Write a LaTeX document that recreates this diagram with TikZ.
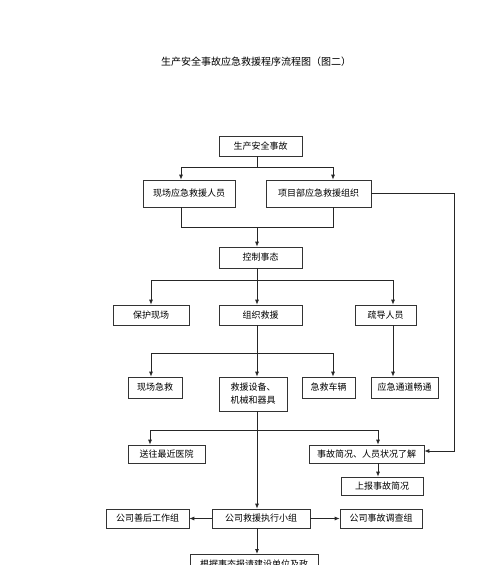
\documentclass[tikz,border=0pt]{standalone}
\usepackage{fontspec}
\newfontfamily\cjk{Noto Sans CJK SC}
\usetikzlibrary{arrows.meta,calc}
\begin{document}
\begin{tikzpicture}[x=1pt,y=-1pt,
  box/.style={draw=black!80, line width=0.7pt, font=\cjk\fontsize{9}{13}\selectfont, inner sep=0pt, align=center},
  conn/.style={draw=black!85, line width=0.8pt},
  arr/.style={conn, -{Latex[length=5pt,width=4pt]}}]
\useasboundingbox (0,0) rectangle (500,565);
\fill[white] (0,0) rectangle (500,565);

\node[font=\cjk\fontsize{10}{12}\selectfont] (title) at (256,62) {生产安全事故应急救援程序流程图（图二）};

\node[box, minimum width=83pt, minimum height=20pt] (b1) at (260.5,146) {生产安全事故};
\node[box, minimum width=92pt, minimum height=27pt] (b2) at (189,193.5) {现场应急救援人员};
\node[box, minimum width=105pt, minimum height=27pt] (b3) at (318.5,193.5) {项目部应急救援组织};
\node[box, minimum width=83pt, minimum height=21pt] (b4) at (260.5,257.5) {控制事态};
\node[box, minimum width=76pt, minimum height=20pt] (b5) at (151,315) {保护现场};
\node[box, minimum width=83pt, minimum height=20pt] (b6) at (260.5,315) {组织救援};
\node[box, minimum width=61pt, minimum height=20pt] (b7) at (385.5,315) {疏导人员};
\node[box, minimum width=54pt, minimum height=21pt] (b8) at (155,387.5) {现场急救};
\node[box, minimum width=68pt, minimum height=34pt] (b9) at (253,394) {救援设备、\\机械和器具};
\node[box, minimum width=53pt, minimum height=21pt] (b10) at (328.5,387.5) {急救车辆};
\node[box, minimum width=67pt, minimum height=21pt] (b11) at (404.5,387.5) {应急通道畅通};
\node[box, minimum width=77pt, minimum height=18pt] (b12) at (166.5,454) {送往最近医院};
\node[box, minimum width=115pt, minimum height=18pt] (b13) at (366.5,454) {事故简况、人员状况了解};
\node[box, minimum width=82pt, minimum height=18pt] (b14) at (382,486) {上报事故简况};
\node[box, minimum width=98pt, minimum height=19pt] (b15) at (261,518.5) {公司救援执行小组};
\node[box, minimum width=83pt, minimum height=19pt] (b16) at (147.5,518.5) {公司善后工作组};
\node[box, minimum width=82pt, minimum height=19pt] (b17) at (381,518.5) {公司事故调查组};
\node[box, minimum width=128pt, minimum height=20pt, anchor=north] (b18) at (254,554) {根据事态报请建设单位及政};

\coordinate (s) at (257,0);
\coordinate (rr) at (454,0);
% level 1
\coordinate (j1) at (257,167);
\coordinate (l1) at (181,167);
\coordinate (r1) at (333,167);
\draw[conn] (b1.south -| s) -- (j1);
\draw[conn] (l1) -- (r1);
\draw[arr] (l1) -- (l1 |- b2.north);
\draw[arr] (r1) -- (r1 |- b3.north);
% merge
\coordinate (l2) at (181,227);
\coordinate (r2) at (333,227);
\coordinate (j2) at (257,227);
\draw[conn] (l2 |- b2.south) -- (l2) -- (r2) -- (r2 |- b3.south);
\draw[arr] (j2) -- (j2 |- b4.north);
% right loop
\coordinate (rin) at ($(b13.east)+(0,-3)$);
\draw[arr] (b3.east) -- (b3.east -| rr) -- (rr |- rin) -- (rin);
% level 3
\coordinate (j3) at (257,280);
\coordinate (l3) at (151,280);
\coordinate (r3) at (393,280);
\draw[conn] (b4.south -| s) -- (j3);
\draw[conn] (l3) -- (r3);
\draw[arr] (l3) -- (l3 |- b5.north);
\draw[arr] (j3) -- (j3 |- b6.north);
\draw[arr] (r3) -- (r3 |- b7.north);
\draw[arr] (b7.south -| r3) -- (r3 |- b11.north);
% level 4
\coordinate (j4) at (257,353);
\coordinate (l4) at (151,353);
\coordinate (r4) at (333,353);
\draw[conn] (b6.south -| s) -- (j4);
\draw[conn] (l4) -- (r4);
\draw[arr] (l4) -- (l4 |- b8.north);
\draw[arr] (j4) -- (j4 |- b9.north);
\draw[arr] (r4) -- (r4 |- b10.north);
% level 5
\coordinate (j5) at (257,430);
\coordinate (l5) at (150,430);
\coordinate (r5) at (378,430);
\draw[conn] (b9.south -| s) -- (j5);
\draw[conn] (l5) -- (r5);
\draw[arr] (l5) -- (l5 |- b12.north);
\draw[arr] (r5) -- (r5 |- b13.north);
\draw[arr] (j5) -- (j5 |- b15.north);
\draw[arr] (b13.south -| r5) -- (r5 |- b14.north);
% bottom
\draw[arr] (b15.west) -- (b16.east);
\draw[arr] (b15.east) -- (b17.west);
\draw[arr] (b15.south -| s) -- (s |- b18.north);
\end{tikzpicture}
\end{document}
